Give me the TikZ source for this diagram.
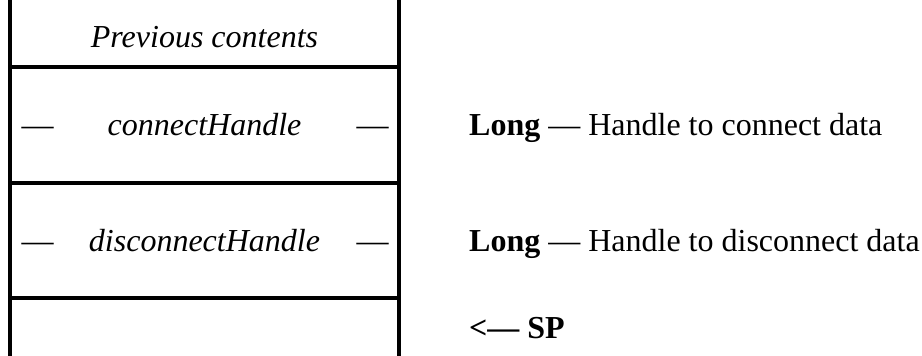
\documentclass[tikz,border=0pt]{standalone}
\usepackage{fontspec}
\setmainfont{Liberation Serif}
\begin{document}
\begin{tikzpicture}[x=1pt,y=-1pt,
  wall/.style={line width=4pt},
  txt/.style={inner sep=0pt,font=\fontsize{32}{38}\selectfont},
  cell/.style={txt,anchor=base,font=\fontsize{32}{38}\selectfont\itshape},
  note/.style={txt,anchor=base west}]
\useasboundingbox (0,0) rectangle (922,356);
% walls
\coordinate (lt) at (10,0);
\coordinate (lb) at (10,356);
\coordinate (rt) at (399,0);
\coordinate (rb) at (399,356);
\draw[wall] (lt) -- (lb);
\draw[wall] (rt) -- (rb);
\foreach \y/\n in {67/a,183/b,298/c}{
  \coordinate (l\n) at (10,\y);
  \coordinate (r\n) at (399,\y);
  \draw[wall] (l\n) -- (r\n);
}
% cell texts
\node[cell] (prev) at (204.5,47) {Previous contents};
\node[cell] (conn) at (204.5,135) {connectHandle};
\node[txt,anchor=base] (d1l) at (37.5,135) {—};
\node[txt,anchor=base] (d1r) at (372.5,135) {—};
\node[cell] (disc) at (204.5,251) {disconnectHandle};
\node[txt,anchor=base] (d2l) at (37.5,251) {—};
\node[txt,anchor=base] (d2r) at (372.5,251) {—};
% notes
\node[note] (n1) at (469,135) {\textbf{Long} — Handle to connect data};
\node[note] (n2) at (469,251) {\textbf{Long} — Handle to disconnect data};
\node[note] (n3) at (469,338) {\textbf{<— SP}};
\end{tikzpicture}
\end{document}
